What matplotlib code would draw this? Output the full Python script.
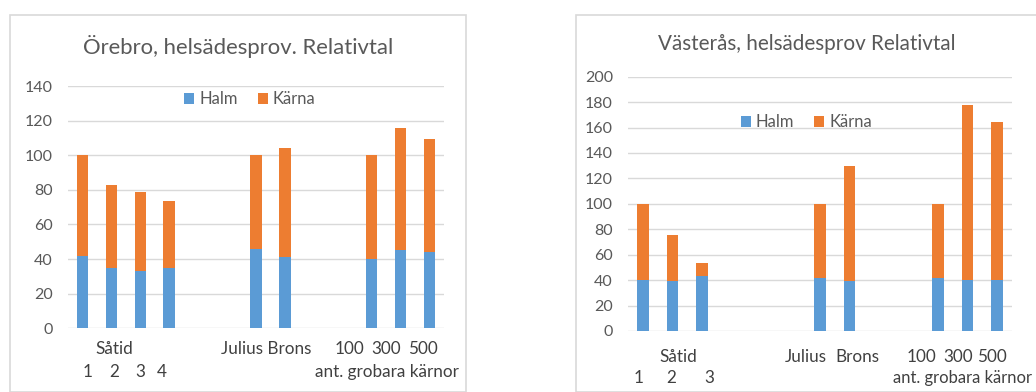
import numpy as np
import matplotlib
matplotlib.use("Agg")
import matplotlib.pyplot as plt
from matplotlib.patches import Rectangle

plt.rcParams['font.family'] = ['Lato', 'DejaVu Sans']

# Örebro (vänster diagram)
oreb_pos = [0, 1, 2, 3, 6, 7, 10, 11, 12]
oreb_halm = [42, 35, 33, 35, 46, 41, 40, 45, 44]
oreb_total = [100, 83, 79, 73.5, 100, 104, 100, 116, 109.5]

# Västerås (höger diagram)
vast_pos = [0, 1, 2, 6, 7, 10, 11, 12]
vast_halm = [40, 39, 43, 41.5, 39, 41.5, 40, 40.5]
vast_total = [100, 75.5, 53.5, 100, 130, 100, 178, 164]

GRA = '#595959'
BLA = '#5B9BD5'
ORA = '#ED7D31'
GRID = '#D9D9D9'

fig = plt.figure(figsize=(10.36, 3.92), dpi=100)

# ramar runt diagrammen
W, H = 1036, 392
fig.patches.append(Rectangle((9.5 / W, 0), (466 - 9.5) / W, (H - 15) / H,
                             transform=fig.transFigure, fill=False,
                             edgecolor=GRID, linewidth=1.2))
fig.patches.append(Rectangle((575.5 / W, 0), (W + 10 - 575.5) / W, (H - 15) / H,
                             transform=fig.transFigure, fill=False,
                             edgecolor=GRID, linewidth=1.2))


def rita(ax, pos, halm, total, ymax, titel, tx, ty, tsize, leg_xy):
    halm = np.array(halm, dtype=float)
    karna = np.array(total, dtype=float) - halm
    ax.bar(pos, halm, width=0.4, color=BLA, label='Halm', zorder=3)
    ax.bar(pos, karna, bottom=halm, width=0.4, color=ORA, label='Kärna', zorder=3)
    ax.set_xlim(-0.5, 12.5)
    ax.set_ylim(0, ymax)
    ax.set_yticks(np.arange(0, ymax + 1, 20))
    ax.set_xticks([])
    ax.grid(axis='y', color=GRID, linewidth=1, zorder=0)
    for s in ax.spines.values():
        s.set_visible(False)
    ax.tick_params(axis='y', length=0, pad=11, labelsize=11.5, labelcolor=GRA)
    fig.text(tx, ty, titel, ha='center', va='center', fontsize=tsize, color=GRA)
    ax.legend(loc='center', bbox_to_anchor=leg_xy, ncol=2, frameon=False,
              fontsize=12, handlelength=0.6, handleheight=0.6,
              handletextpad=0.3, columnspacing=1.2, labelcolor=GRA)
    return ax


# vänster
ax1 = fig.add_axes([68 / W, 1 - 328.3 / H, 376 / W, (328.3 - 86) / H])
rita(ax1, oreb_pos, oreb_halm, oreb_total, 140,
     'Örebro, helsädesprov. Relativtal', 238 / W, 1 - 46 / H, 15.9, (0.484, 0.946))

tr1 = ax1.get_xaxis_transform()
etik1 = [('Såtid', 1.09, 0), ('1', 0.19, 1), ('2', 1.09, 1), ('3', 2.0, 1), ('4', 2.76, 1),
         ('Julius Brons', 6.35, 0), ('100', 9.22, 0), ('300', 10.5, 0), ('500', 11.78, 0),
         ('ant. grobara kärnor', 10.51, 1)]
for txt, x, rad in etik1:
    ax1.annotate(txt, (x, 0), xycoords=tr1, xytext=(0, -15 - rad * 16.5),
                 textcoords='offset points', ha='center', va='center',
                 fontsize=12.3, color='#404040', annotation_clip=False)

# höger
ax2 = fig.add_axes([628.3 / W, 1 - 331 / H, 383.4 / W, (331 - 76.7) / H])
rita(ax2, vast_pos, vast_halm, vast_total, 200,
     'Västerås, helsädesprov Relativtal', 807 / W, 1 - 43.5 / H, 14.9, (0.465, 0.82))

tr2 = ax2.get_xaxis_transform()
etik2 = [('Såtid', 1.2, 0), ('1', -0.14, 1), ('2', 0.94, 1), ('3', 2.25, 1),
         ('Julius', 5.52, 0), ('Brons', 7.26, 0), ('100', 9.43, 0), ('300', 10.69, 0),
         ('500', 11.82, 0)]
for txt, x, rad in etik2:
    ax2.annotate(txt, (x, 0), xycoords=tr2, xytext=(0, -18.5 - rad * 15),
                 textcoords='offset points', ha='center', va='center',
                 fontsize=12.3, color='#404040', annotation_clip=False)
ax2.annotate('ant. grobara kärnor', (13.2, 0), xycoords=tr2, xytext=(0, -33.5),
             textcoords='offset points', ha='right', va='center',
             fontsize=12, color='#404040', annotation_clip=False)

fig.savefig('out.png', dpi=100)
